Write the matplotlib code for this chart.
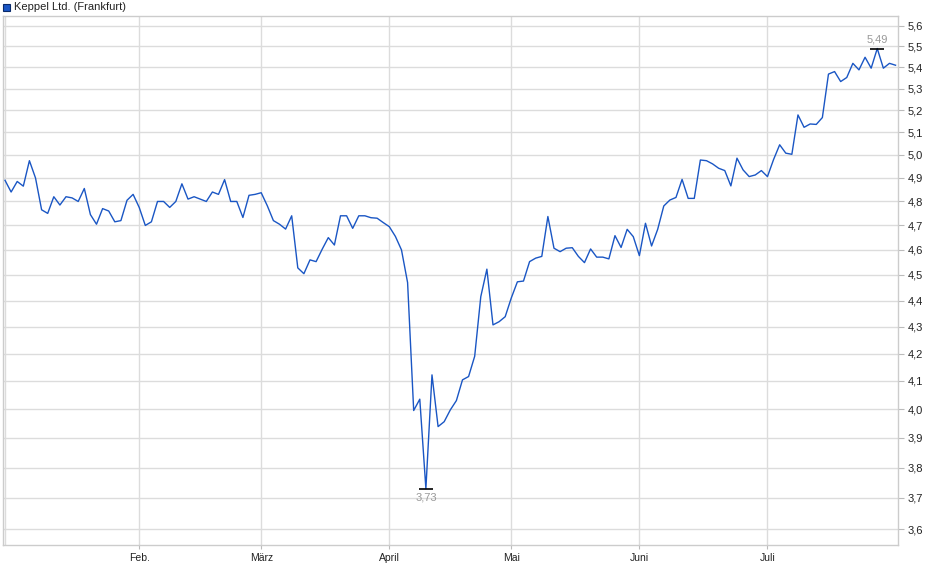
import matplotlib
matplotlib.use("Agg")
import matplotlib.pyplot as plt
from matplotlib.ticker import FixedLocator, FixedFormatter, NullLocator
from matplotlib.patches import Rectangle
import numpy as np

series_name = "Keppel Ltd. (Frankfurt)"
month_labels = ["", "Feb.", "März", "April", "Mai", "Juni", "Juli"]
month_trading_days = [22, 20, 21, 20, 21, 21, 22]

prices = [
    # Jan
    4.89, 4.84, 4.885, 4.865, 4.975, 4.90, 4.765, 4.75, 4.82, 4.785, 4.82,
    4.815, 4.80, 4.855, 4.745, 4.705, 4.77, 4.76, 4.715, 4.72, 4.805, 4.83,
    # Feb
    4.775, 4.70, 4.715, 4.80, 4.80, 4.775, 4.80, 4.875, 4.81, 4.82, 4.81,
    4.80, 4.84, 4.83, 4.893, 4.80, 4.80, 4.733, 4.826, 4.83,
    # Mar
    4.837, 4.782, 4.72, 4.705, 4.685, 4.74, 4.528, 4.505, 4.56, 4.553, 4.603,
    4.65, 4.62, 4.74, 4.74, 4.688, 4.74, 4.74, 4.732, 4.73, 4.712,
    # Apr
    4.695, 4.655, 4.60, 4.47, 3.995, 4.035, 3.73, 4.122, 3.939, 3.956, 3.997,
    4.03, 4.104, 4.116, 4.19, 4.415, 4.523, 4.307, 4.319, 4.338,
    # May
    4.41, 4.473, 4.476, 4.553, 4.567, 4.574, 4.737, 4.607, 4.593, 4.607, 4.609,
    4.574, 4.549, 4.604, 4.571, 4.571, 4.564, 4.658, 4.61, 4.684, 4.654,
    # Jun
    4.577, 4.709, 4.616, 4.684, 4.781, 4.806, 4.817, 4.894, 4.813, 4.813, 4.978,
    4.975, 4.961, 4.942, 4.932, 4.866, 4.986, 4.935, 4.906, 4.913, 4.932,
    # Jul
    4.906, 4.98, 5.045, 5.008, 5.003, 5.179, 5.123, 5.138, 5.136, 5.167, 5.368,
    5.38, 5.333, 5.352, 5.419, 5.388, 5.448, 5.396, 5.49, 5.396, 5.419, 5.41,
]
y_ticks = [3.6, 3.7, 3.8, 3.9, 4.0, 4.1, 4.2, 4.3, 4.4, 4.5, 4.6, 4.7, 4.8, 4.9,
           5.0, 5.1, 5.2, 5.3, 5.4, 5.5, 5.6]

W, H = 940, 579
fig = plt.figure(figsize=(W / 100, H / 100), dpi=100)
fig.patch.set_facecolor("white")
ax = fig.add_axes([3 / W, (H - 545) / H, (898 - 3) / W, (545 - 16) / H])

x = np.arange(len(prices))
p = np.array(prices)
line_color = "#1a56c4"
grid_color = "#dcdcdc"

ax.set_yscale("log")
ax.set_ylim(3.55, 5.649)
ax.set_xlim(-0.33, len(prices) - 1 + 0.4)

ax.plot(x, p, color=line_color, lw=1.0, zorder=3)

# grid
month_starts = np.cumsum([0] + month_trading_days[:-1])
for ms in month_starts[1:]:
    ax.axvline(ms, color=grid_color, lw=1.0, zorder=1)
ax.axvline(0, color=grid_color, lw=1.0, zorder=1)
for yt in y_ticks:
    ax.axhline(yt, color=grid_color, lw=1.0, zorder=1)

ax.yaxis.set_major_locator(FixedLocator(y_ticks))
ax.yaxis.set_major_formatter(FixedFormatter([f"{v:.1f}".replace(".", ",") for v in y_ticks]))
ax.yaxis.set_minor_locator(NullLocator())
ax.yaxis.tick_right()
ax.tick_params(axis="y", which="major", length=4, width=0.8, color="#bbbbbb",
               labelsize=8, labelcolor="#222222", pad=3)

ax.xaxis.set_major_locator(FixedLocator(list(month_starts[1:])))
ax.xaxis.set_major_formatter(FixedFormatter(month_labels[1:]))
ax.xaxis.set_minor_locator(NullLocator())
ax.tick_params(axis="x", which="major", length=3, width=0.8, color="#bbbbbb",
               labelsize=7.5, labelcolor="#222222", pad=3)
for lab in ax.get_xticklabels() + ax.get_yticklabels():
    lab.set_fontfamily("Liberation Sans")

for s in ax.spines.values():
    s.set_color("#cccccc")
    s.set_linewidth(1.0)

# high / low markers
imax = int(np.argmax(p))
imin = int(np.argmin(p))
ax.plot([imax], [p[imax]], marker="_", markersize=10, mew=1.2, color="black", zorder=4)
ax.plot([imin], [p[imin]], marker="_", markersize=10, mew=1.2, color="black", zorder=4)
ax.annotate(f"{p[imax]:.2f}".replace(".", ","), (imax, p[imax]), xytext=(0, 3),
            textcoords="offset points", ha="center", va="bottom", fontsize=8,
            color="#999999", family="Liberation Sans")
ax.annotate(f"{p[imin]:.2f}".replace(".", ","), (imin, p[imin]), xytext=(0, -3),
            textcoords="offset points", ha="center", va="top", fontsize=8,
            color="#999999", family="Liberation Sans")

# legend
fig.patches.append(Rectangle((3 / W, (H - 11) / H), 7 / W, 7 / H, transform=fig.transFigure,
                             facecolor=line_color, edgecolor="#0a2a6a", lw=0.8))
fig.text(14 / W, (H - 7) / H, series_name, fontsize=8, va="center", ha="left",
         color="#222222", family="Liberation Sans")

fig.savefig("out.png", dpi=100)
